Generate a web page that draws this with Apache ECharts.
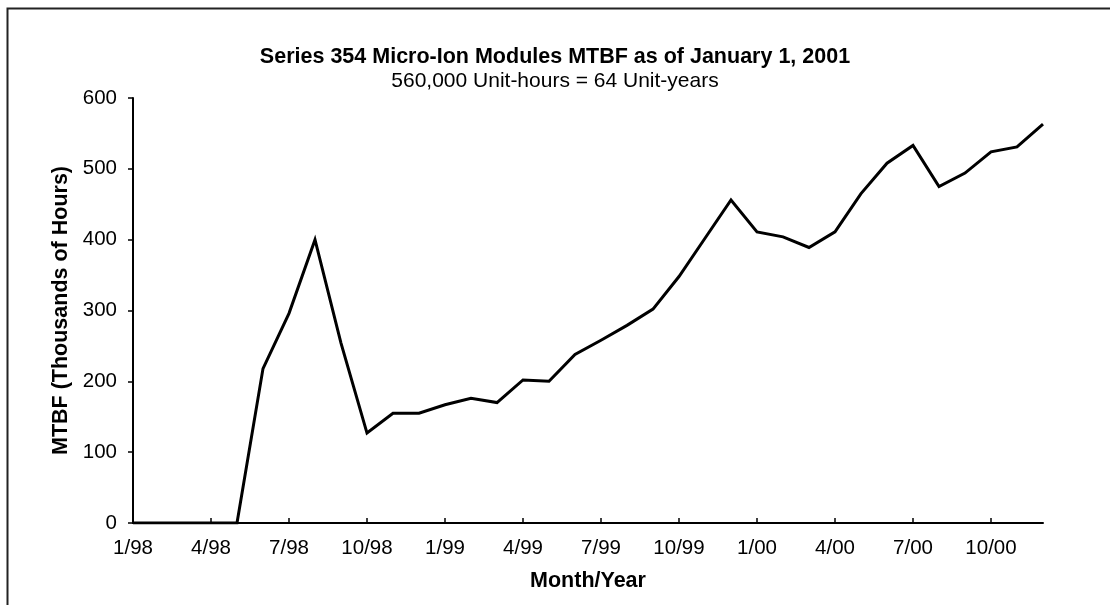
<!DOCTYPE html>
<html>
<head>
<meta charset="utf-8">
<script src="https://cdn.jsdelivr.net/npm/echarts@6/dist/echarts.min.js"></script>
<style>
	html, body { margin: 0; padding: 0; background: #fff; }
	#chart { width: 1110px; height: 605px; }
</style>
</head>
<body>
<div id="chart"></div>
<script>
	// month labels, 1/98 .. 12/00
	var months = ['1/98', '2/98', '3/98', '4/98', '5/98', '6/98', '7/98', '8/98', '9/98', '10/98', '11/98', '12/98',
		'1/99', '2/99', '3/99', '4/99', '5/99', '6/99', '7/99', '8/99', '9/99', '10/99', '11/99', '12/99',
		'1/00', '2/00', '3/00', '4/00', '5/00', '6/00', '7/00', '8/00', '9/00', '10/00', '11/00', '12/00'];
	// MTBF in thousands of hours
	var mtbf = [0, 0, 0, 0, 0, 218, 296, 400, 254, 127, 155, 155,
		167, 176, 170, 202, 200, 238, 258, 279, 302, 348, 402, 456,
		411, 404, 389, 411, 465, 508, 533, 475, 494, 524, 531, 563];
	var yMin = 0, yMax = 600, yStep = 100;

	var font = '"Liberation Sans", Arial, sans-serif';
	var chart = echarts.init(document.getElementById('chart'));
	var option = {
		backgroundColor: '#fff',
		animation: false,
		title: {
			text: 'Series 354 Micro-Ion Modules MTBF as of January 1, 2001',
			subtext: '560,000 Unit-hours = 64 Unit-years',
			left: 'center',
			top: 40,
			itemGap: 1,
			textStyle: {
				fontFamily: font,
				fontSize: 21.5,
				fontWeight: 'bold',
				color: '#000',
				lineHeight: 24
			},
			subtextStyle: {
				fontFamily: font,
				fontSize: 21,
				color: '#000',
				lineHeight: 23
			}
		},
		graphic: [{
			type: 'rect',
			shape: { x: 7.5, y: 8.5, width: 1110, height: 620 },
			style: { fill: null, stroke: '#222', lineWidth: 2 },
			silent: true
		}],
		grid: {
			left: 133,
			right: 67,
			top: 98,
			bottom: 82
		},
		xAxis: {
			type: 'category',
			data: months,
			boundaryGap: false,
			name: 'Month/Year',
			nameLocation: 'middle',
			nameGap: 47,
			nameTextStyle: {
				fontFamily: font,
				fontSize: 21.5,
				fontWeight: 'bold',
				color: '#000'
			},
			axisLine: { lineStyle: { color: '#000', width: 2 } },
			axisTick: {
				inside: true,
				length: 5,
				interval: 2,
				lineStyle: { color: '#000', width: 1.5 }
			},
			axisLabel: {
				interval: 2,
				margin: 15,
				fontFamily: font,
				fontSize: 20.5,
				color: '#000'
			},
			splitLine: { show: false }
		},
		yAxis: {
			type: 'value',
			min: yMin,
			max: yMax,
			interval: yStep,
			name: 'MTBF (Thousands of Hours)',
			nameLocation: 'middle',
			nameGap: 60,
			nameTextStyle: {
				fontFamily: font,
				fontSize: 21.5,
				fontWeight: 'bold',
				color: '#000'
			},
			axisLine: { show: true, lineStyle: { color: '#000', width: 2 } },
			axisTick: {
				show: true,
				length: 5,
				lineStyle: { color: '#000', width: 1.5 }
			},
			axisLabel: {
				margin: 16,
				fontFamily: font,
				fontSize: 20.5,
				color: '#000'
			},
			splitLine: { show: false }
		},
		series: [{
			type: 'line',
			data: mtbf,
			symbol: 'none',
			lineStyle: { color: '#000', width: 3, join: 'miter' },
			z: 3
		}]
	};
	chart.setOption(option);
</script>
</body>
</html>
